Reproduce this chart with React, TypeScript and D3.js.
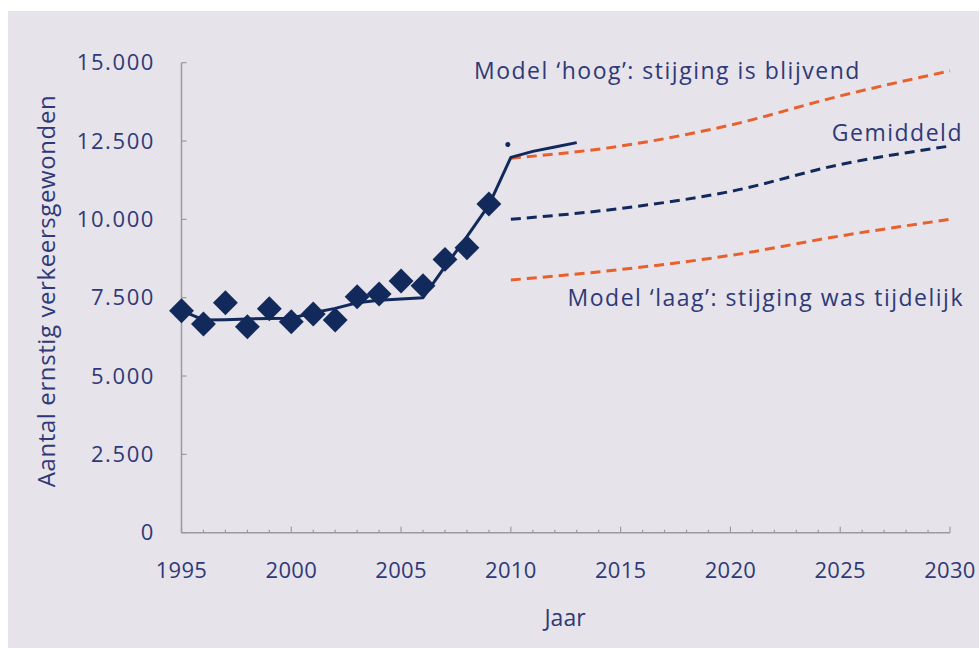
import * as d3 from "d3";
import React from "react";

// gemeten waarden (ernstig verkeersgewonden per jaar)
const years = [1995, 1996, 1997, 1998, 1999, 2000, 2001, 2002, 2003, 2004, 2005, 2006, 2007, 2008, 2009];
const observed = [7085, 6660, 7340, 6574, 7149, 6734, 6980, 6788, 7532, 7618, 8033, 7883, 8723, 9096, 10490];

// trendlijn
const trendYears = [1995, 1996, 1997, 1998, 1999, 2000, 2001, 2002, 2003, 2004, 2005, 2006, 2007, 2008, 2009, 2010, 2011, 2012, 2013];
const trendValues = [7085, 6790, 6800, 6820, 6835, 6842, 7022, 7160, 7340, 7416, 7458, 7500, 8490, 9447, 10457, 11980, 12170, 12310, 12450];

// prognoses
const projYears = [2010, 2015, 2020, 2025, 2030];
const projHigh = [11950, 12340, 13010, 13940, 14740];
const projMid = [10000, 10350, 10890, 11750, 12340];
const projLow = [8065, 8400, 8850, 9470, 10000];

const yTicks = [0, 2500, 5000, 7500, 10000, 12500, 15000];
const xTicks = [1995, 2000, 2005, 2010, 2015, 2020, 2025, 2030];

const navy = "#12295c";
const orange = "#e8602c";
const textColor = "#2f3978";
const axisColor = "#9b9b9b";
const font = "'Open Sans', sans-serif";

const fmt = (v: number) => (v === 0 ? "0" : d3.format(",")(v).replace(",", "."));

export default function App() {
  const W = 979;
  const H = 648;
  const x = d3.scaleLinear().domain([1995, 2030]).range([181.5, 950]);
  const y = d3.scaleLinear().domain([0, 15000]).range([532.7, 62.7]);

  const proj = (vals: number[]) =>
    d3
      .line<number>()
      .x((d, i) => x(projYears[i]))
      .y((d) => y(d))
      .curve(d3.curveMonotoneX)(vals);

  const trendPath = d3
    .line<number>()
    .x((d, i) => x(trendYears[i]))
    .y((d) => y(d))(trendValues);

  const allYears = d3.range(1995, 2031);

  return (
    <svg width={W} height={H} style={{ position: "absolute", left: 0, top: 0 }}>
      <rect x={0} y={0} width={W} height={H} fill="#ffffff" />
      <rect x={8} y={11} width={W - 8} height={H - 11} fill="#e6e3ea" />

      {/* assen */}
      <line x1={x(1995)} x2={x(1995)} y1={y(15000)} y2={y(0)} stroke={axisColor} strokeWidth={1.5} />
      <line x1={x(1995)} x2={x(2030)} y1={y(0)} y2={y(0)} stroke={axisColor} strokeWidth={1.5} />
      {yTicks.map((t) => (
        <line key={"yt" + t} x1={x(1995)} x2={x(1995) + 5} y1={y(t)} y2={y(t)} stroke={axisColor} strokeWidth={1.2} />
      ))}
      {allYears.map((yr) => (
        <line
          key={"xt" + yr}
          x1={x(yr)}
          x2={x(yr)}
          y1={y(0)}
          y2={y(0) - (yr % 5 === 0 ? 6 : 3)}
          stroke={axisColor}
          strokeWidth={1.2}
        />
      ))}
      {yTicks.map((t) => (
        <text
          key={"yl" + t}
          x={155}
          y={y(t)}
          dy="0.35em"
          textAnchor="end"
          fontFamily={font}
          fontSize={22}
          letterSpacing={1.6}
          fill={textColor}
        >
          {fmt(t)}
        </text>
      ))}
      {xTicks.map((t) => (
        <text
          key={"xl" + t}
          x={x(t)}
          y={578}
          textAnchor="middle"
          fontFamily={font}
          fontSize={22}
          letterSpacing={0.3}
          fill={textColor}
        >
          {t}
        </text>
      ))}
      <text x={565} y={626} textAnchor="middle" fontFamily={font} fontSize={23} fill={textColor}>
        Jaar
      </text>
      <text
        transform={`translate(55, 291) rotate(-90)`}
        textAnchor="middle"
        fontFamily={font}
        fontSize={24}
        letterSpacing={0.6}
        fill={textColor}
      >
        Aantal ernstig verkeersgewonden
      </text>

      {/* prognoses */}
      <path d={proj(projHigh) || ""} fill="none" stroke={orange} strokeWidth={3} strokeDasharray="10 6" />
      <path d={proj(projMid) || ""} fill="none" stroke={navy} strokeWidth={3} strokeDasharray="10 6" />
      <path d={proj(projLow) || ""} fill="none" stroke={orange} strokeWidth={3} strokeDasharray="10 6" />

      {/* trend en metingen */}
      <path d={trendPath || ""} fill="none" stroke={navy} strokeWidth={3} strokeLinejoin="round" />
      {years.map((yr, i) => (
        <rect
          key={"d" + yr}
          x={-8.8}
          y={-8.8}
          width={17.6}
          height={17.6}
          fill={navy}
          transform={`translate(${x(yr)}, ${y(observed[i])}) rotate(45)`}
        />
      ))}
      <circle cx={x(2010) - 3} cy={y(12450) + 2} r={2.5} fill={navy} />

      {/* labels */}
      <text x={474} y={79} fontFamily={font} fontSize={23} letterSpacing={1.5} fill={textColor}>
        Model ‘hoog’: stijging is blijvend
      </text>
      <text x={963} y={141} textAnchor="end" fontFamily={font} fontSize={23} letterSpacing={1.5} fill={textColor}>
        Gemiddeld
      </text>
      <text x={964} y={306} textAnchor="end" fontFamily={font} fontSize={23} letterSpacing={1.5} fill={textColor}>
        Model ‘laag’: stijging was tijdelijk
      </text>
    </svg>
  );
}
